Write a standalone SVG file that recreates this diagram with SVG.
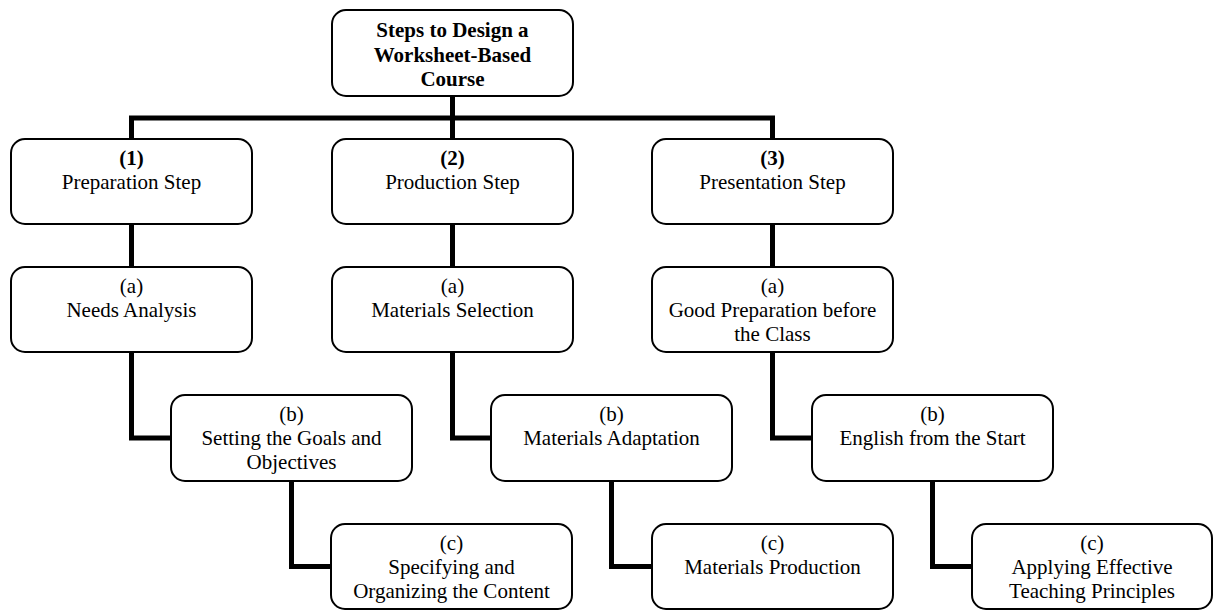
<svg xmlns="http://www.w3.org/2000/svg" width="1215" height="610" viewBox="0 0 1215 610">
<style>
.box{fill:#fff;stroke:#000;stroke-width:2}
.t{font-family:"Liberation Serif","Times New Roman",serif;font-size:21px;fill:#000;text-anchor:middle}
.b{font-weight:bold}
.c{fill:none;stroke:#000;stroke-width:5;stroke-linejoin:miter;stroke-linecap:butt}
</style>
<rect width="1215" height="610" fill="#fff"/>
<g id="connectors">
<path class="c" d="M452.5 96 V118 M131.5 139 V118 H772.5 V139 M452.5 118 V139"/>
<path class="c" d="M131.5 224 V267 M452.5 224 V267 M772.5 224 V267"/>
<path class="c" d="M131.5 352 V438 H171"/>
<path class="c" d="M291.5 481 V566.5 H331"/>
<path class="c" d="M452.5 352 V438 H491"/>
<path class="c" d="M611.5 481 V566.5 H652"/>
<path class="c" d="M772.5 352 V438 H812"/>
<path class="c" d="M932.5 481 V566.5 H972"/>
</g>
<g id="root">
<rect class="box" x="332" y="10" width="241" height="86" rx="14"/>
<text class="t b" x="452.5" y="37">Steps to Design a</text>
<text class="t b" x="452.5" y="62">Worksheet-Based</text>
<text class="t b" x="452.5" y="86">Course</text>
</g>
<g id="step1">
<rect class="box" x="11" y="139" width="241" height="85" rx="14"/>
<text class="t b" x="131.5" y="165">(1)</text>
<text class="t" x="131.5" y="189">Preparation Step</text>
</g>
<g id="step2">
<rect class="box" x="332" y="139" width="241" height="85" rx="14"/>
<text class="t b" x="452.5" y="165">(2)</text>
<text class="t" x="452.5" y="189">Production Step</text>
</g>
<g id="step3">
<rect class="box" x="652" y="139" width="241" height="85" rx="14"/>
<text class="t b" x="772.5" y="165">(3)</text>
<text class="t" x="772.5" y="189">Presentation Step</text>
</g>
<g id="s1a">
<rect class="box" x="11" y="267" width="241" height="85" rx="14"/>
<text class="t" x="131.5" y="293">(a)</text>
<text class="t" x="131.5" y="317">Needs Analysis</text>
</g>
<g id="s1b">
<rect class="box" x="171" y="395" width="241" height="86" rx="14"/>
<text class="t" x="291.5" y="421">(b)</text>
<text class="t" x="291.5" y="445">Setting the Goals and</text>
<text class="t" x="291.5" y="469">Objectives</text>
</g>
<g id="s1c">
<rect class="box" x="331" y="524" width="241" height="85" rx="14"/>
<text class="t" x="451.5" y="550">(c)</text>
<text class="t" x="451.5" y="574">Specifying and</text>
<text class="t" x="451.5" y="598">Organizing the Content</text>
</g>
<g id="s2a">
<rect class="box" x="332" y="267" width="241" height="85" rx="14"/>
<text class="t" x="452.5" y="293">(a)</text>
<text class="t" x="452.5" y="317">Materials Selection</text>
</g>
<g id="s2b">
<rect class="box" x="491" y="395" width="241" height="86" rx="14"/>
<text class="t" x="611.5" y="421">(b)</text>
<text class="t" x="611.5" y="445">Materials Adaptation</text>
</g>
<g id="s2c">
<rect class="box" x="652" y="524" width="241" height="85" rx="14"/>
<text class="t" x="772.5" y="550">(c)</text>
<text class="t" x="772.5" y="574">Materials Production</text>
</g>
<g id="s3a">
<rect class="box" x="652" y="267" width="241" height="85" rx="14"/>
<text class="t" x="772.5" y="293">(a)</text>
<text class="t" x="772.5" y="317">Good Preparation before</text>
<text class="t" x="772.5" y="341">the Class</text>
</g>
<g id="s3b">
<rect class="box" x="812" y="395" width="241" height="86" rx="14"/>
<text class="t" x="932.5" y="421">(b)</text>
<text class="t" x="932.5" y="445">English from the Start</text>
</g>
<g id="s3c">
<rect class="box" x="972" y="524" width="240" height="85" rx="14"/>
<text class="t" x="1092" y="550">(c)</text>
<text class="t" x="1092" y="574">Applying Effective</text>
<text class="t" x="1092" y="598">Teaching Principles</text>
</g>
</svg>
